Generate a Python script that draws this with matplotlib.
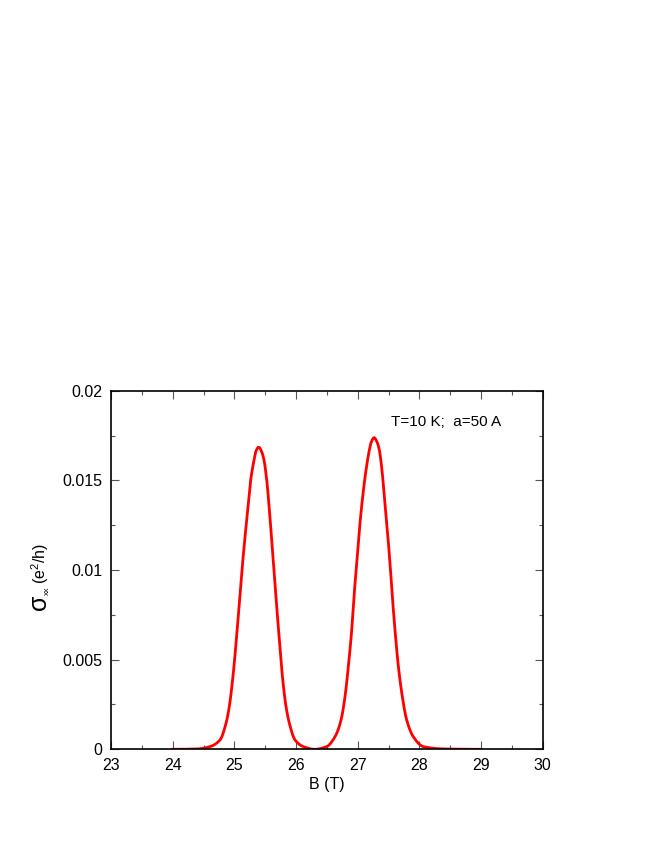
import numpy as np
import matplotlib
matplotlib.use("Agg")
import matplotlib.pyplot as plt
from matplotlib.ticker import MultipleLocator, FuncFormatter

plt.rcParams['font.family'] = ['Liberation Sans', 'DejaVu Sans']

# values: B (T) and sigma_xx (e^2/h)
b_field = [24.0, 24.4, 24.605, 24.767, 24.865, 24.918, 24.983, 25.032, 25.076,
           25.119, 25.168, 25.222, 25.265, 25.319, 25.347, 25.395, 25.443,
           25.481, 25.525, 25.564, 25.606, 25.648, 25.687, 25.730, 25.774,
           25.838, 25.892, 25.984, 26.118, 26.3, 26.497, 26.632, 26.730,
           26.794, 26.854, 26.903, 26.940, 26.984, 27.027, 27.081, 27.135,
           27.189, 27.217, 27.265, 27.318, 27.351, 27.394, 27.432, 27.481,
           27.524, 27.562, 27.605, 27.654, 27.724, 27.795, 27.902, 28.064,
           28.4, 29.0]
sigma_xx = [0.0, 0.00002, 0.00015, 0.00052, 0.00145, 0.00238, 0.00424, 0.00609,
            0.00795, 0.00981, 0.01167, 0.01353, 0.01502, 0.01613, 0.01660,
            0.01685, 0.01660, 0.01613, 0.01502, 0.01353, 0.01167, 0.00981,
            0.00795, 0.00609, 0.00424, 0.00238, 0.00145, 0.00052, 0.00015,
            0.0, 0.00015, 0.00070, 0.00163, 0.00293, 0.00480, 0.00665,
            0.00851, 0.01037, 0.01223, 0.01408, 0.01557, 0.01669, 0.01710,
            0.01738, 0.01710, 0.01669, 0.01557, 0.01408, 0.01223, 0.01037,
            0.00851, 0.00665, 0.00480, 0.00293, 0.00163, 0.00070, 0.00015,
            0.00002, 0.0]

x_ticks = [23, 24, 25, 26, 27, 28, 29, 30]
y_ticks = [0, 0.005, 0.01, 0.015, 0.02]
note = "T=10 K;  a=50 A"


def pchip(x, y, xn):
    # monotone cubic through the read points, so the curve stays smooth
    x = np.asarray(x, float)
    y = np.asarray(y, float)
    h = np.diff(x)
    d = np.diff(y) / h
    m = np.zeros_like(y)
    for k in range(1, len(x) - 1):
        if d[k - 1] * d[k] > 0:
            w1 = 2 * h[k] + h[k - 1]
            w2 = h[k] + 2 * h[k - 1]
            m[k] = (w1 + w2) / (w1 / d[k - 1] + w2 / d[k])
    i = np.clip(np.searchsorted(x, xn) - 1, 0, len(x) - 2)
    t = (xn - x[i]) / h[i]
    h00 = 2 * t**3 - 3 * t**2 + 1
    h10 = t**3 - 2 * t**2 + t
    h01 = -2 * t**3 + 3 * t**2
    h11 = t**3 - t**2
    return h00 * y[i] + h10 * h[i] * m[i] + h01 * y[i + 1] + h11 * h[i] * m[i + 1]


fig = plt.figure(figsize=(6.54, 8.46), dpi=100)
ax = fig.add_axes([111 / 654, 1 - 749.3 / 846, (542.7 - 111) / 654, (749.3 - 390.7) / 846])

xs = np.linspace(b_field[0], b_field[-1], 2000)
ys = pchip(b_field, sigma_xx, xs)
ax.plot(xs, ys, color='#ff0000', lw=2.0)

ax.set_xlim(23, 30)
ax.set_ylim(0, 0.02)
ax.set_xticks(x_ticks)
ax.set_yticks(y_ticks)
ax.xaxis.set_minor_locator(MultipleLocator(0.5))
ax.yaxis.set_minor_locator(MultipleLocator(0.0025))
ax.yaxis.set_major_formatter(FuncFormatter(lambda v, p: "0" if v == 0 else ("%g" % v)))
ax.tick_params(which='both', direction='in', top=True, right=True, width=0.8,
               color='#555555', labelsize=11.5, pad=6)
ax.tick_params(which='major', length=6)
ax.tick_params(which='minor', length=3)
for s in ax.spines.values():
    s.set_linewidth(1.2)
    s.set_color('black')

ax.set_xlabel("B (T)", fontsize=11.5, labelpad=3)

# y label built from pieces: large sigma, tiny xx, normal (e^2/h)
px = lambda x, y: (x / 654, 1 - y / 846)
lab = dict(rotation=90, rotation_mode='anchor', ha='left', va='baseline')
fig.text(*px(46, 610), "\u03c3", fontsize=18, **lab)
fig.text(*px(48.5, 595), "xx", fontsize=6, **lab)
fig.text(*px(46, 584), r"(e$\mathregular{^2}$/h)", fontsize=11.5, **lab)

ax.text(0.648, 0.912, note, transform=ax.transAxes, fontsize=11, ha='left', va='center')

fig.savefig("out.png", dpi=100)
